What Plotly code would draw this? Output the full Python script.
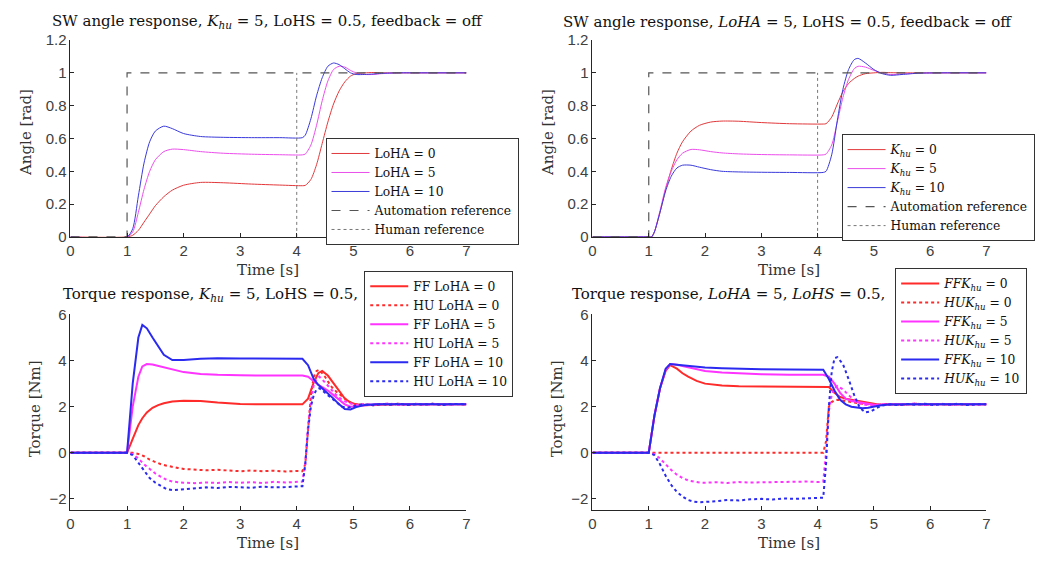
import plotly.graph_objects as go

# ---------------- DATA ----------------
# Top-left: SW angle, K_hu = 5, varying LoHA
t_ang_tl = [0, 1.0, 1.1, 1.2, 1.3, 1.4, 1.5, 1.65, 1.8, 2.0, 2.3, 2.7, 3.2, 3.7, 4.1, 4.15, 4.25, 4.35, 4.45, 4.55, 4.65, 4.75, 4.85, 4.95, 5.05, 5.2, 5.35, 5.5, 5.8, 6.2, 7.0]
ang_tl_loha0 = [0, 0, 0.01, 0.04, 0.09, 0.14, 0.19, 0.245, 0.285, 0.315, 0.332, 0.330, 0.322, 0.316, 0.312, 0.314, 0.35, 0.44, 0.57, 0.70, 0.81, 0.89, 0.945, 0.98, 0.995, 1.0, 1.002, 1.0, 1.0, 1.0, 1.0]
ang_tl_loha5 = [0, 0, 0.03, 0.15, 0.29, 0.40, 0.47, 0.52, 0.535, 0.532, 0.52, 0.51, 0.504, 0.501, 0.50, 0.505, 0.56, 0.68, 0.83, 0.95, 1.02, 1.04, 1.035, 1.015, 1.0, 0.99, 0.99, 0.995, 1.0, 1.0, 1.0]
ang_tl_loha10 = [0, 0, 0.05, 0.25, 0.45, 0.58, 0.645, 0.675, 0.66, 0.63, 0.612, 0.607, 0.605, 0.605, 0.605, 0.62, 0.72, 0.86, 0.97, 1.04, 1.06, 1.05, 1.025, 1.0, 0.99, 0.99, 0.993, 0.997, 1.0, 1.0, 1.0]

# Top-right: SW angle, LoHA = 5, varying K_hu
t_ang_tr = [0, 1.0, 1.05, 1.1, 1.2, 1.3, 1.4, 1.5, 1.6, 1.75, 1.9, 2.1, 2.3, 2.6, 3.0, 3.5, 4.1, 4.15, 4.25, 4.35, 4.45, 4.55, 4.65, 4.72, 4.85, 5.0, 5.15, 5.3, 5.5, 5.8, 6.2, 7.0]
ang_tr_khu0 = [0, 0, 0.0, 0.03, 0.15, 0.29, 0.41, 0.51, 0.58, 0.645, 0.68, 0.70, 0.706, 0.705, 0.697, 0.69, 0.688, 0.69, 0.73, 0.81, 0.885, 0.935, 0.965, 0.98, 0.995, 1.0, 1.003, 1.001, 1.0, 1.0, 1.0, 1.0]
ang_tr_khu5 = [0, 0, 0.0, 0.03, 0.16, 0.30, 0.40, 0.47, 0.51, 0.533, 0.531, 0.52, 0.512, 0.506, 0.502, 0.50, 0.50, 0.505, 0.56, 0.70, 0.85, 0.96, 1.025, 1.04, 1.035, 1.015, 0.998, 0.99, 0.993, 0.998, 1.0, 1.0]
ang_tr_khu10 = [0, 0, 0.0, 0.03, 0.15, 0.28, 0.37, 0.42, 0.437, 0.437, 0.425, 0.41, 0.40, 0.396, 0.394, 0.393, 0.393, 0.40, 0.50, 0.71, 0.90, 1.02, 1.08, 1.088, 1.06, 1.02, 0.995, 0.985, 0.99, 0.998, 1.0, 1.0]

# References
t_auto_ref = [0, 1, 1, 7]
auto_ref = [0, 0, 1, 1]
t_hum_ref = [4, 4]
hum_ref = [0, 1]

# Bottom-left: torque, K_hu = 5, varying LoHA
t_tq_bl = [0, 1.0, 1.1, 1.2, 1.27, 1.35, 1.45, 1.55, 1.65, 1.8, 2.0, 2.3, 2.6, 3.0, 3.5, 4.1, 4.2, 4.3, 4.38, 4.45, 4.55, 4.65, 4.75, 4.85, 4.95, 5.05, 5.2, 5.4, 5.7, 6.2, 7.0]
ff_bl_loha0 = [0, 0, 0.6, 1.2, 1.5, 1.75, 1.95, 2.07, 2.15, 2.22, 2.26, 2.25, 2.18, 2.12, 2.1, 2.1, 2.35, 3.05, 3.45, 3.55, 3.35, 3.0, 2.65, 2.35, 2.18, 2.1, 2.06, 2.08, 2.1, 2.1, 2.1]
ff_bl_loha5 = [0, 0, 2.0, 3.3, 3.75, 3.85, 3.83, 3.77, 3.7, 3.6, 3.5, 3.42, 3.38, 3.36, 3.35, 3.35, 3.3, 3.1, 2.95, 2.85, 2.7, 2.5, 2.3, 2.1, 2.0, 2.02, 2.07, 2.1, 2.1, 2.1, 2.1]
ff_bl_loha10 = [0, 0, 3.0, 5.0, 5.55, 5.4, 5.0, 4.6, 4.25, 4.02, 4.03, 4.08, 4.1, 4.09, 4.08, 4.08, 3.8, 3.2, 2.95, 2.8, 2.6, 2.35, 2.1, 1.9, 1.88, 1.98, 2.07, 2.1, 2.1, 2.1, 2.1]

t_hu_bl = [0, 1.0, 1.1, 1.2, 1.3, 1.4, 1.5, 1.6, 1.7, 1.8, 1.9, 2.0, 2.2, 2.4, 2.6, 2.8, 3.0, 3.2, 3.4, 3.6, 3.8, 4.0, 4.1, 4.15, 4.2, 4.25, 4.3, 4.35, 4.4, 4.5, 4.6, 4.7, 4.8, 4.9, 5.0, 5.1, 5.2, 5.35, 5.5, 5.65, 5.8, 5.95, 6.1, 6.25, 6.4, 6.55, 6.7, 6.85, 7.0]
hu_bl_loha0 = [0, 0, 0.0, -0.05, -0.15, -0.3, -0.4, -0.5, -0.56, -0.62, -0.66, -0.7, -0.72, -0.76, -0.74, -0.78, -0.8, -0.77, -0.8, -0.78, -0.81, -0.79, -0.8, -0.5, 1.0, 2.5, 3.3, 3.55, 3.6, 3.3, 2.9, 2.65, 2.45, 2.25, 2.12, 2.08, 2.1, 2.06, 2.12, 2.08, 2.13, 2.07, 2.11, 2.09, 2.13, 2.07, 2.1, 2.12, 2.09]
hu_bl_loha5 = [0, 0, -0.05, -0.25, -0.5, -0.72, -0.9, -1.05, -1.17, -1.25, -1.28, -1.3, -1.32, -1.29, -1.31, -1.27, -1.3, -1.28, -1.31, -1.26, -1.29, -1.25, -1.25, -0.5, 1.2, 2.2, 2.95, 3.2, 3.3, 3.05, 2.75, 2.5, 2.3, 2.18, 2.1, 2.07, 2.12, 2.08, 2.11, 2.14, 2.07, 2.1, 2.13, 2.08, 2.1, 2.12, 2.08, 2.11, 2.1]
hu_bl_loha10 = [0, 0, -0.1, -0.45, -0.8, -1.1, -1.3, -1.45, -1.58, -1.62, -1.6, -1.57, -1.55, -1.5, -1.53, -1.48, -1.5, -1.52, -1.47, -1.5, -1.49, -1.46, -1.45, -0.5, 1.0, 2.0, 2.5, 2.75, 2.8, 2.6, 2.4, 2.2, 2.0, 1.95, 2.02, 2.08, 2.1, 2.06, 2.12, 2.08, 2.13, 2.07, 2.11, 2.09, 2.13, 2.07, 2.1, 2.12, 2.09]

# Bottom-right: torque, LoHA = 5, varying K_hu
t_tq_br = [0, 1.0, 1.1, 1.2, 1.3, 1.38, 1.5, 1.6, 1.7, 1.85, 2.0, 2.3, 2.6, 3.0, 3.5, 4.1, 4.2, 4.3, 4.4, 4.5, 4.6, 4.7, 4.8, 4.9, 5.0, 5.1, 5.25, 5.4, 5.7, 6.2, 7.0]
ff_br_khu0 = [0, 0, 1.6, 2.8, 3.55, 3.8, 3.65, 3.45, 3.3, 3.12, 3.0, 2.92, 2.89, 2.88, 2.88, 2.88, 2.85, 2.6, 2.42, 2.35, 2.3, 2.25, 2.2, 2.15, 2.1, 2.08, 2.09, 2.1, 2.1, 2.1, 2.1]
ff_br_khu5 = [0, 0, 1.6, 2.8, 3.6, 3.85, 3.82, 3.77, 3.7, 3.62, 3.55, 3.48, 3.44, 3.41, 3.39, 3.38, 3.3, 3.0, 2.6, 2.35, 2.25, 2.2, 2.15, 2.1, 2.08, 2.08, 2.1, 2.1, 2.1, 2.1, 2.1]
ff_br_khu10 = [0, 0, 1.6, 2.8, 3.65, 3.85, 3.82, 3.79, 3.76, 3.72, 3.7, 3.67, 3.64, 3.62, 3.61, 3.6, 3.2, 2.7, 2.3, 2.1, 2.0, 1.95, 1.93, 1.95, 2.0, 2.05, 2.09, 2.1, 2.1, 2.1, 2.1]

t_hu_br = [0, 1.0, 1.1, 1.2, 1.3, 1.4, 1.5, 1.6, 1.7, 1.8, 1.9, 2.0, 2.2, 2.4, 2.6, 2.8, 3.0, 3.2, 3.4, 3.6, 3.8, 4.0, 4.1, 4.15, 4.2, 4.25, 4.3, 4.35, 4.45, 4.55, 4.65, 4.75, 4.85, 4.95, 5.05, 5.15, 5.3, 5.45, 5.6, 5.75, 5.9, 6.05, 6.2, 6.35, 6.5, 6.65, 6.8, 7.0]
hu_br_khu0 = [0, 0, 0, 0, 0, 0, 0, 0, 0, 0, 0, 0, 0, 0, 0, 0, 0, 0, 0, 0, 0, 0, 0, 0.5, 2.0, 2.2, 2.28, 2.3, 2.27, 2.22, 2.18, 2.14, 2.12, 2.1, 2.08, 2.1, 2.12, 2.08, 2.11, 2.13, 2.08, 2.1, 2.12, 2.08, 2.11, 2.09, 2.12, 2.1]
hu_br_khu5 = [0, 0, -0.05, -0.25, -0.5, -0.75, -0.95, -1.1, -1.2, -1.26, -1.29, -1.3, -1.28, -1.31, -1.27, -1.29, -1.28, -1.3, -1.26, -1.28, -1.25, -1.27, -1.25, 0.0, 1.8, 2.5, 2.8, 2.9, 2.75, 2.5, 2.3, 2.15, 2.08, 2.05, 2.08, 2.1, 2.12, 2.08, 2.11, 2.14, 2.07, 2.1, 2.13, 2.08, 2.1, 2.12, 2.08, 2.1]
hu_br_khu10 = [0, 0, -0.1, -0.5, -1.0, -1.4, -1.7, -1.9, -2.05, -2.12, -2.15, -2.14, -2.1, -2.05, -2.07, -2.02, -2.0, -2.03, -1.98, -2.0, -1.97, -1.96, -1.95, -0.5, 2.0, 3.5, 4.1, 4.15, 3.85, 3.2, 2.5, 1.95, 1.75, 1.8, 1.95, 2.05, 2.1, 2.06, 2.12, 2.08, 2.13, 2.07, 2.11, 2.09, 2.13, 2.07, 2.1, 2.1]

x_ticks = [0, 1, 2, 3, 4, 5, 6, 7]
ang_ticks = [0, 0.2, 0.4, 0.6, 0.8, 1.0, 1.2]
ang_ticklabels = ["0", "0.2", "0.4", "0.6", "0.8", "1", "1.2"]
tq_ticks = [-2, 0, 2, 4, 6]

# ---------------- STYLE ----------------
RED_T, MAG_T, BLU_T = "#e0393b", "#ea4fea", "#3a3ad8"
RED_B, MAG_B, BLU_B = "#ff2a2a", "#ff33ff", "#2a2af0"
SERIF = "DejaVu Serif"
SANS = "Liberation Sans"
AX_COL = "#262626"

W, H = 1049, 563
def px_x(p): return p / W
def px_y(p): return 1 - p / H

fig = go.Figure()

def add(x, y, name, color, width, dash, xa, ya, leg, shape="spline"):
    line = dict(color=color, width=width, dash=dash, shape=shape)
    if shape == "spline":
        line["smoothing"] = 0.7
    fig.add_trace(go.Scatter(
        x=x, y=y, name=name, mode="lines", line=line,
        xaxis=xa, yaxis=ya, legend=leg, hoverinfo="skip"))

# Top-left
add(t_ang_tl, ang_tl_loha0, "LoHA = 0", RED_T, 1, "solid", "x", "y", "legend")
add(t_ang_tl, ang_tl_loha5, "LoHA = 5", MAG_T, 1, "solid", "x", "y", "legend")
add(t_ang_tl, ang_tl_loha10, "LoHA = 10", BLU_T, 1, "solid", "x", "y", "legend")
add(t_auto_ref, auto_ref, "Automation reference", "#555555", 1.2, "dash", "x", "y", "legend", "linear")
add(t_hum_ref, hum_ref, "Human reference", "#777777", 1, "dot", "x", "y", "legend", "linear")

# Top-right
add(t_ang_tr, ang_tr_khu0, "<i>K</i><sub><i>hu</i></sub> = 0", RED_T, 1, "solid", "x2", "y2", "legend2")
add(t_ang_tr, ang_tr_khu5, "<i>K</i><sub><i>hu</i></sub> = 5", MAG_T, 1, "solid", "x2", "y2", "legend2")
add(t_ang_tr, ang_tr_khu10, "<i>K</i><sub><i>hu</i></sub> = 10", BLU_T, 1, "solid", "x2", "y2", "legend2")
add(t_auto_ref, auto_ref, "Automation reference", "#555555", 1.2, "dash", "x2", "y2", "legend2", "linear")
add(t_hum_ref, hum_ref, "Human reference", "#777777", 1, "dot", "x2", "y2", "legend2", "linear")

# Bottom-left
add(t_tq_bl, ff_bl_loha0, "FF LoHA = 0", RED_B, 2, "solid", "x3", "y3", "legend3", "linear")
add(t_hu_bl, hu_bl_loha0, "HU LoHA = 0", RED_B, 2, "dot", "x3", "y3", "legend3", "linear")
add(t_tq_bl, ff_bl_loha5, "FF LoHA = 5", MAG_B, 2, "solid", "x3", "y3", "legend3", "linear")
add(t_hu_bl, hu_bl_loha5, "HU LoHA = 5", MAG_B, 2, "dot", "x3", "y3", "legend3", "linear")
add(t_tq_bl, ff_bl_loha10, "FF LoHA = 10", BLU_B, 2, "solid", "x3", "y3", "legend3", "linear")
add(t_hu_bl, hu_bl_loha10, "HU LoHA = 10", BLU_B, 2, "dot", "x3", "y3", "legend3", "linear")

# Bottom-right
add(t_tq_br, ff_br_khu0, "<i>FFK</i><sub><i>hu</i></sub> = 0", RED_B, 2, "solid", "x4", "y4", "legend4", "linear")
add(t_hu_br, hu_br_khu0, "<i>HUK</i><sub><i>hu</i></sub> = 0", RED_B, 2, "dot", "x4", "y4", "legend4", "linear")
add(t_tq_br, ff_br_khu5, "<i>FFK</i><sub><i>hu</i></sub> = 5", MAG_B, 2, "solid", "x4", "y4", "legend4", "linear")
add(t_hu_br, hu_br_khu5, "<i>HUK</i><sub><i>hu</i></sub> = 5", MAG_B, 2, "dot", "x4", "y4", "legend4", "linear")
add(t_tq_br, ff_br_khu10, "<i>FFK</i><sub><i>hu</i></sub> = 10", BLU_B, 2, "solid", "x4", "y4", "legend4", "linear")
add(t_hu_br, hu_br_khu10, "<i>HUK</i><sub><i>hu</i></sub> = 10", BLU_B, 2, "dot", "x4", "y4", "legend4", "linear")

tickfont = dict(family=SANS, size=15, color="#404040")
def xaxis(dom, anchor):
    return dict(domain=dom, anchor=anchor, range=[0, 7], tickvals=x_ticks, ticks="inside", ticklen=4,
                tickcolor=AX_COL, showline=True, linecolor=AX_COL, linewidth=1, mirror=False,
                showgrid=False, zeroline=False, tickfont=tickfont, fixedrange=True)
def yaxis(dom, anchor, rng, tv, tt=None):
    d = dict(domain=dom, anchor=anchor, range=rng, tickvals=tv, ticks="inside", ticklen=4,
             tickcolor=AX_COL, showline=True, linecolor=AX_COL, linewidth=1, mirror=False,
             showgrid=False, zeroline=False, tickfont=tickfont, fixedrange=True)
    if tt: d["ticktext"] = tt
    return d

xl = [px_x(67), px_x(466)]
xr = [px_x(593), px_x(990)]
yt = [px_y(235), px_y(32)]
yb = [px_y(517), px_y(315)]

def legend_cfg(x, y, size):
    return dict(x=px_x(x), y=px_y(y), font=dict(family=SERIF, size=size, color="#111111"), bgcolor="white",
                bordercolor="#333333", borderwidth=1, xanchor="left", yanchor="top",
                tracegroupgap=0, itemwidth=38, traceorder="normal")

fig.update_layout(
    width=W, height=H, margin=dict(l=0, r=0, t=0, b=0),
    paper_bgcolor="white", plot_bgcolor="white",
    xaxis=xaxis(xl, "y"), yaxis=yaxis(yt, "x", [0, 1.2], ang_ticks, ang_ticklabels),
    xaxis2=xaxis(xr, "y2"), yaxis2=yaxis(yt, "x2", [0, 1.2], ang_ticks, ang_ticklabels),
    xaxis3=xaxis(xl, "y3"), yaxis3=yaxis(yb, "x3", [-2.5, 6], tq_ticks),
    xaxis4=xaxis(xr, "y4"), yaxis4=yaxis(yb, "x4", [-2.5, 6], tq_ticks),
    legend=legend_cfg(324, 133, 12.3),
    legend2=legend_cfg(844, 129, 12.3),
    legend3=legend_cfg(363, 270, 12.3),
    legend4=legend_cfg(898, 267, 12.3),
    showlegend=True,
)

tfont = dict(family=SERIF, size=15, color="#111111")
afont = dict(family=SERIF, size=15, color="#333333")
annots = [
    dict(text="SW angle response, <i>K</i><sub><i>hu</i></sub> = 5, LoHS = 0.5, feedback = off",
         x=px_x(266), y=px_y(13), xanchor="center", yanchor="middle", font=tfont),
    dict(text="SW angle response, <i>LoHA</i> = 5, LoHS = 0.5, feedback = off",
         x=px_x(790), y=px_y(13), xanchor="center", yanchor="middle", font=tfont),
    dict(text="Torque response, <i>K</i><sub><i>hu</i></sub> = 5, LoHS = 0.5,",
         x=px_x(57), y=px_y(294), xanchor="left", yanchor="middle", font=tfont),
    dict(text="Torque response, <i>LoHA</i> = 5, <i>LoHS</i> = 0.5,",
         x=px_x(570), y=px_y(294), xanchor="left", yanchor="middle", font=tfont),
    dict(text="Time [s]", x=px_x(266), y=px_y(269), xanchor="center", yanchor="middle", font=afont),
    dict(text="Time [s]", x=px_x(791), y=px_y(269), xanchor="center", yanchor="middle", font=afont),
    dict(text="Time [s]", x=px_x(266), y=px_y(551), xanchor="center", yanchor="middle", font=afont),
    dict(text="Time [s]", x=px_x(791), y=px_y(551), xanchor="center", yanchor="middle", font=afont),
    dict(text="Angle [rad]", x=px_x(22), y=px_y(127), textangle=-90, xanchor="center", yanchor="middle", font=afont),
    dict(text="Angle [rad]", x=px_x(548), y=px_y(127), textangle=-90, xanchor="center", yanchor="middle", font=afont),
    dict(text="Torque [Nm]", x=px_x(31), y=px_y(412), textangle=-90, xanchor="center", yanchor="middle", font=afont),
    dict(text="Torque [Nm]", x=px_x(557), y=px_y(412), textangle=-90, xanchor="center", yanchor="middle", font=afont),
]
for a in annots:
    a.update(xref="paper", yref="paper", showarrow=False)
fig.update_layout(annotations=annots)

fig.write_html("out.html")
